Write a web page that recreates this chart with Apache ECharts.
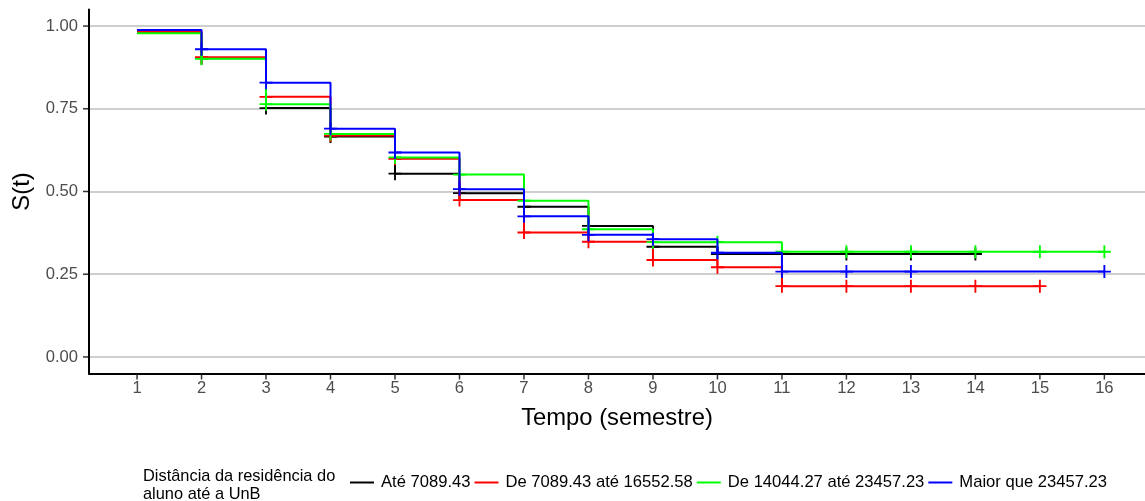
<!DOCTYPE html>
<html><head><meta charset="utf-8">
<script src="https://cdn.jsdelivr.net/npm/echarts@6/dist/echarts.min.js"></script>
<style>html,body{margin:0;padding:0;background:#fff}#c{width:1145px;height:501px}</style>
</head><body><div id="c"></div>
<script>
// ---- data ----
const times = [1,2,3,4,5,6,7,8,9,10,11,12,13,14,15,16];
const groupNames = ['Até 7089.43','De 7089.43 até 16552.58','De 14044.27 até 23457.23','Maior que 23457.23'];
const groupColors = ['#000000','#ff0000','#00ff00','#0000ff'];
// survival S(t) at each time (from t=1)
const survAte7089  = [0.980,0.903,0.752,0.666,0.554,0.495,0.454,0.396,0.333,0.311,0.311,0.311,0.311,0.311];
const survDe7089   = [0.983,0.906,0.786,0.669,0.599,0.474,0.376,0.348,0.293,0.271,0.214,0.214,0.214,0.214,0.214];
const survDe14044  = [0.978,0.901,0.764,0.674,0.603,0.551,0.472,0.386,0.347,0.347,0.318,0.318,0.318,0.318,0.318,0.318];
const survMaior    = [0.988,0.930,0.829,0.690,0.618,0.507,0.425,0.369,0.356,0.315,0.258,0.258,0.258,0.258,0.258,0.258];
// censoring marks (times)
const censAte7089  = [2,3,4,5,6,7,8,9,10,11,12,13,14];
const censDe7089   = [2,3,4,5,6,7,8,9,10,11,12,13,14,15];
const censDe14044  = [2,3,4,5,6,7,8,9,10,11,12,13,14,15,16];
const censMaior    = [2,3,4,5,6,7,8,9,10,11,12,13,16];
const xTickLabels = [1,2,3,4,5,6,7,8,9,10,11,12,13,14,15,16];
const yTickValues = [0,0.25,0.5,0.75,1];

const survList = [survAte7089, survDe7089, survDe14044, survMaior];
const censList = [censAte7089, censDe7089, censDe14044, censMaior];

const X_MIN = 0.255, X_MAX = 16.63, Y_MIN = -0.05, Y_MAX = 1.05;
const FONT = "'Liberation Sans', Arial, sans-serif";
const plus = 'path://M-1,-7H1V-1H7V1H1V7H-1V1H-7V-1H-1Z';

const series = [];
// horizontal gridlines
series.push({
  type: 'line', name: '_grid', data: [], silent: true,
  markLine: {
    silent: true, symbol: 'none', z: 0, animation: false,
    label: {show: false},
    lineStyle: {color: '#bebebe', width: 1.6, type: 'solid'},
    emphasis: {disabled: true},
    data: yTickValues.map(v => ({yAxis: v}))
  }
});
// axis ticks drawn through the axis scales
series.push({
  type: 'custom', name: '_xticks', silent: true, animation: false, clip: false, z: 10,
  data: xTickLabels.map(t => [t, Y_MIN]),
  renderItem: (params, api) => {
    const p = api.coord([api.value(0), api.value(1)]);
    return {type: 'line', shape: {x1: p[0], y1: p[1] + 1, x2: p[0], y2: p[1] + 6},
            style: {stroke: '#333333', lineWidth: 1.5}};
  }
});
series.push({
  type: 'custom', name: '_yticks', silent: true, animation: false, clip: false, z: 10,
  data: yTickValues.map(v => [X_MIN, v]),
  renderItem: (params, api) => {
    const p = api.coord([api.value(0), api.value(1)]);
    return {type: 'line', shape: {x1: p[0] - 1, y1: p[1], x2: p[0] - 6, y2: p[1]},
            style: {stroke: '#333333', lineWidth: 1.5}};
  }
});
survList.forEach((s, k) => {
  series.push({
    type: 'line', name: groupNames[k], step: 'end', symbol: 'none', z: 2 + k,
    data: s.map((v, i) => [times[i], v]),
    lineStyle: {width: 2, color: groupColors[k]},
    itemStyle: {color: groupColors[k]},
    animation: false, silent: true
  });
});
censList.forEach((c, k) => {
  series.push({
    type: 'scatter', name: groupNames[k] + ' (censura)', symbol: plus, symbolSize: 13, z: 2 + k,
    data: c.map(t => [t, survList[k][times.indexOf(t)]]),
    itemStyle: {color: groupColors[k], opacity: 1},
    animation: false, silent: true
  });
});

const chart = echarts.init(document.getElementById('c'), null, {renderer: 'canvas'});
chart.setOption({
  backgroundColor: '#ffffff',
  animation: false,
  grid: {left: 89, right: 0, top: 9.5, bottom: 127.5, containLabel: false},
  xAxis: {
    type: 'value', min: X_MIN, max: X_MAX,
    name: 'Tempo (semestre)', nameLocation: 'middle', nameGap: 33,
    nameTextStyle: {fontFamily: FONT, fontSize: 23.8, color: '#000'},
    axisLine: {show: true, onZero: false, lineStyle: {color: '#000', width: 2}},
    axisTick: {show: false},
    axisLabel: {show: true, customValues: xTickLabels, fontFamily: FONT, fontSize: 16.6, color: '#4d4d4d', margin: 6},
    splitLine: {show: false}
  },
  yAxis: {
    type: 'value', min: Y_MIN, max: Y_MAX,
    name: 'S(t)', nameLocation: 'middle', nameGap: 54, nameRotate: 90,
    nameTextStyle: {fontFamily: FONT, fontSize: 23.8, color: '#000'},
    axisLine: {show: true, onZero: false, lineStyle: {color: '#000', width: 2}},
    axisTick: {show: false},
    axisLabel: {show: true, customValues: yTickValues, formatter: v => Number(v).toFixed(2), fontFamily: FONT, fontSize: 16.6, color: '#4d4d4d', margin: 11},
    splitLine: {show: false}
  },
  legend: {
    left: 345, top: 469, orient: 'horizontal',
    icon: 'rect', itemWidth: 24, itemHeight: 2, itemGap: 4,
    data: groupNames,
    textStyle: {fontFamily: FONT, fontSize: 16.6, color: '#000', padding: [0, 0, 0, 2]},
    selectedMode: false
  },
  graphic: [{
    type: 'text', left: 143, top: 467,
    style: {text: 'Distância da residência do\naluno até a UnB', fontFamily: FONT, fontSize: 16.4, lineHeight: 18, fill: '#000'}
  }],
  series: series
});
</script>
</body></html>
